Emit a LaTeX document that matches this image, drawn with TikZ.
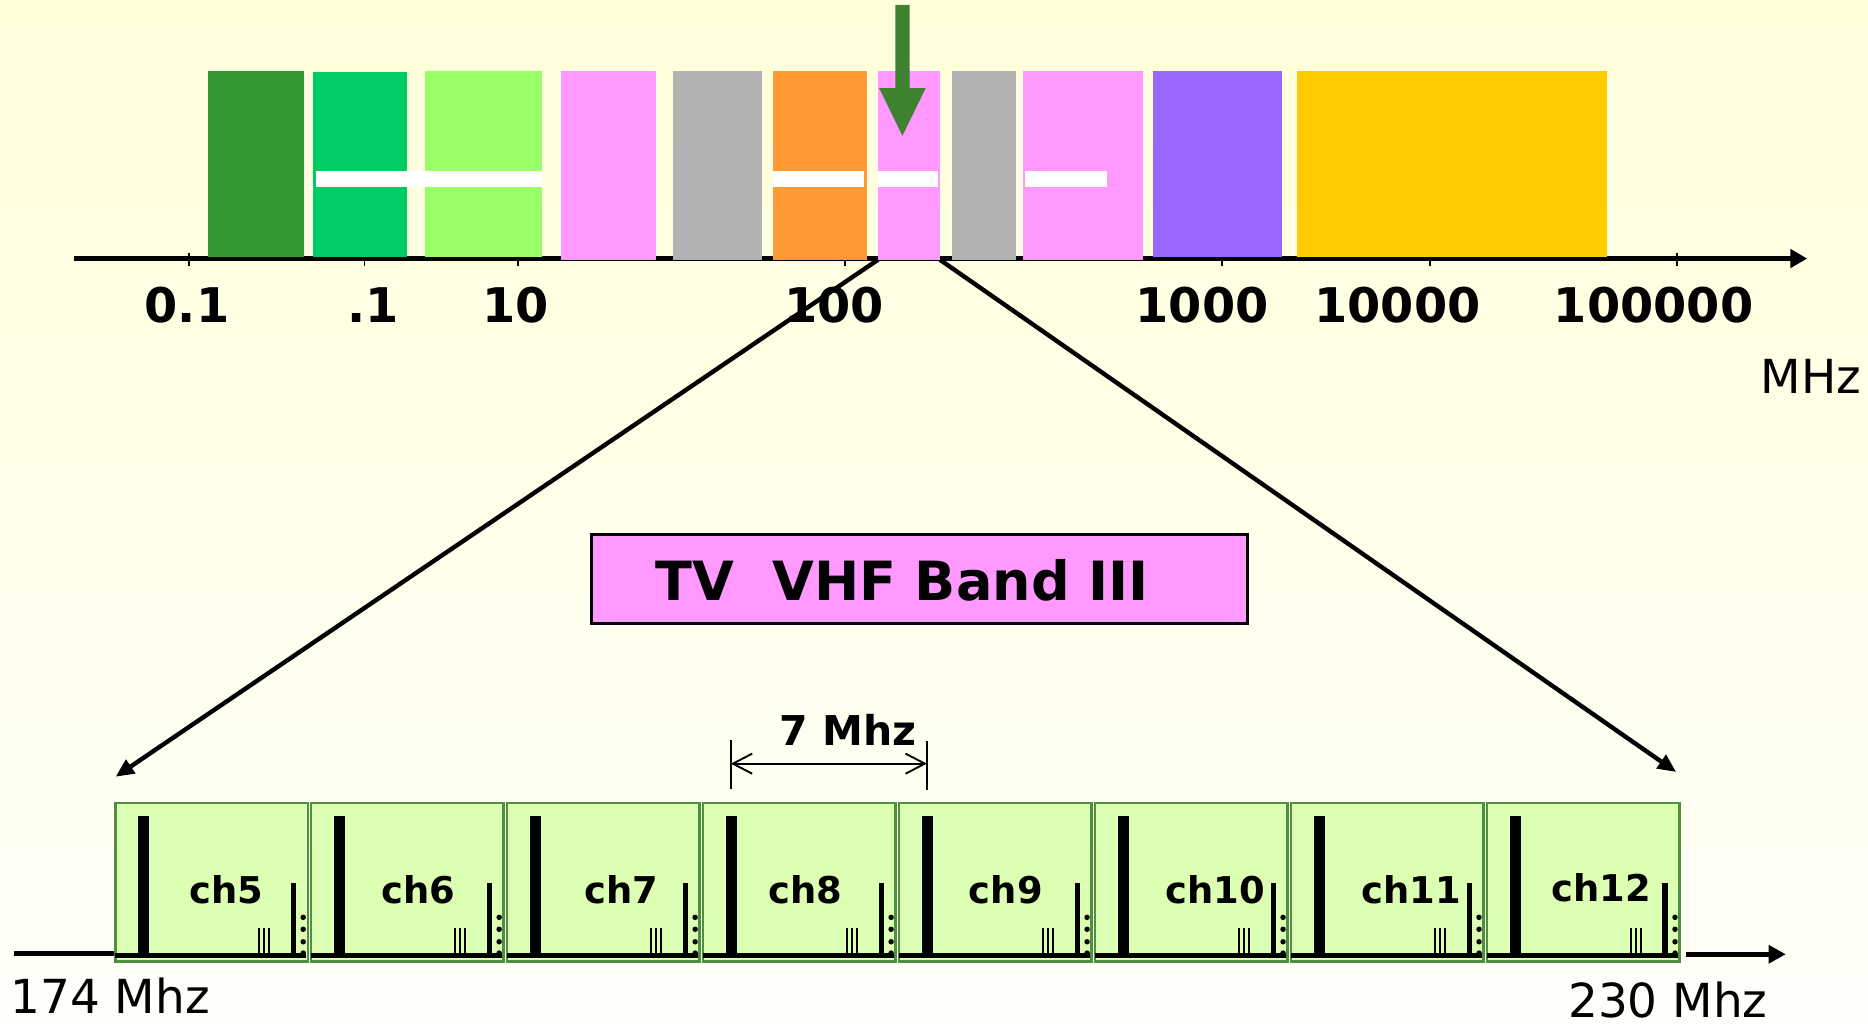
\documentclass[tikz,border=0pt]{standalone}
\usepackage{fontspec}
\setmainfont{DejaVu Sans}
\usetikzlibrary{arrows.meta}
\definecolor{bgtop}{HTML}{FFFFDA}
\definecolor{bgbot}{HTML}{FFFFFA}
\definecolor{cA}{HTML}{339933}
\definecolor{cB}{HTML}{00CC66}
\definecolor{cC}{HTML}{99FF66}
\definecolor{cP}{HTML}{FF99FF}
\definecolor{cG}{HTML}{B2B2B2}
\definecolor{cO}{HTML}{FF9933}
\definecolor{cV}{HTML}{9966FF}
\definecolor{cY}{HTML}{FFCC00}
\definecolor{garrow}{HTML}{3E8232}
\definecolor{chfill}{HTML}{DDFFB4}
\definecolor{chedge}{HTML}{4F8F3F}
\begin{document}
\begin{tikzpicture}[x=0.01cm,y=-0.01cm,
  axisline/.style={line width=1.4pt,-{Triangle[length=4pt,width=4.3pt]}},
  tickline/.style={line width=0.45pt},
  zoomline/.style={line width=1.05pt,-{Triangle[length=4.4pt,width=3.8pt]}},
  toplab/.style={font=\bfseries\fontsize{11.4}{13}\selectfont,inner sep=0pt},
  unitlab/.style={font=\fontsize{11.2}{13}\selectfont,inner sep=0pt},
  chbox/.style={draw=chedge,fill=chfill,line width=0.6pt,minimum width=1.615cm,minimum height=1.33cm,inner sep=0pt,anchor=north west},
  chlab/.style={font=\bfseries\fontsize{8.8}{10}\selectfont,inner sep=0pt},
  tvbox/.style={draw=black,fill=cP,line width=0.7pt,minimum width=5.5cm,minimum height=0.74cm,inner sep=0pt},
  dimline/.style={line width=0.45pt,{Straight Barb[length=4.6pt,width=4.8pt]}-{Straight Barb[length=4.6pt,width=4.8pt]}}
]
\useasboundingbox (0,0) rectangle (1568,859);
\shade[top color=bgtop,bottom color=bgbot] (0,0) rectangle (1568,859);

% ---------- top axis ----------
\coordinate (ax0) at (62,217);
\coordinate (ax1) at (1517,217);
\draw[axisline] (ax0) -- (ax1);
\foreach \tx in {159,306,435,709,1026,1200,1408}
  \draw[tickline] (\tx,212) -- (\tx,223);

% ---------- spectrum bands ----------
\foreach \xa/\xb/\yb/\col in {174.6/255/215.5/cA, 262.9/341.6/215.5/cB, 356.8/455/215.5/cC,
  471/550.7/218/cP, 565/639.6/218/cG, 649/728/218/cO, 737/789/218/cP, 799/853/218/cG,
  859/959.5/218/cP, 968/1076/215.5/cV, 1089/1349/215.5/cY}
  \fill[\col] (\xa,59.6) rectangle (\xb,\yb);
\fill[bgtop] (262.9,59) rectangle (341.6,60.6);
\foreach \xa/\xb in {265/455, 649/725, 737/787, 860/929}
  \fill[white] (\xa,143.5) rectangle (\xb,157);
\coordinate (bandL) at (737,218);
\coordinate (bandR) at (789,218);

% green marker arrow
\fill[garrow] (751.5,4) -- (763.5,4) -- (763.5,74) -- (777,74) -- (757.5,114)
  -- (738,74) -- (751.5,74) -- cycle;

% axis labels
\node[toplab] (l01)  at (157,256)  {0.1};
\node[toplab] (l1)   at (313,256)  {.1};
\node[toplab] (l10)  at (433,256)  {10};
\node[toplab] (l100) at (700,256)  {100};
\node[toplab] (l1k)  at (1009,256) {1000};
\node[toplab] (l10k) at (1173,256) {10000};
\node[toplab] (l100k) at (1388,256) {100000};
\node[unitlab] (mhz) at (1520,316) {MHz};

% ---------- TV box ----------
\node[tvbox] (tv) at (772,486) {};
\node[font=\bfseries\fontsize{12.9}{15}\selectfont,inner sep=0pt] (tvt) at (757.5,487) {TV\ \ VHF Band III};

% ---------- channels ----------
\foreach \i/\lab/\lx/\ly in {0/ch5/94.6/747, 1/ch6/90.7/747, 2/ch7/97/747, 3/ch8/87/747,
  4/ch9/90.6/747, 5/ch10/102/747, 6/ch11/102/747, 7/ch12/97/745} {
  \pgfmathsetmacro{\xo}{95.7+\i*164.5}
  \node[chbox] (c\i) at (\xo,673) {};
  \fill (\xo+1,800) rectangle (\xo+161,804.5);
  \fill (\xo+20,685) rectangle (\xo+29.5,802);
  \foreach \t in {121.6,125.9,130.1}
    \fill (\xo+\t-0.9,779) rectangle (\xo+\t+0.9,802);
  \fill (\xo+148.3,741) rectangle (\xo+152.6,802);
  \foreach \dy in {770,780,790.5,800}
    \fill (\xo+158.8,\dy) circle (2.3);
  \node[chlab] (n\i) at (\xo+\lx,\ly) {\lab};
}

% bottom axis
\coordinate (bl) at (12,800);
\draw[line width=1.2pt] (bl) -- (bl -| c0.west);
\coordinate (brs) at (1415,801);
\coordinate (bre) at (1499,801);
\draw[line width=1.2pt,-{Triangle[length=4.1pt,width=4.2pt]}] (brs) -- (bre);
\node[unitlab,anchor=west] (f174) at (8,836) {174 Mhz};
\node[unitlab] (f230) at (1400,839) {230 Mhz};

% zoom lines
\coordinate (zL) at (97,652);
\coordinate (zR) at (1407,648);
\draw[zoomline] (bandL) -- (zL);
\draw[zoomline] (bandR) -- (zR);

% 7 MHz dimension
\coordinate (d1t) at (613.5,621);
\coordinate (d1b) at (613.5,662);
\coordinate (d2t) at (778,622);
\coordinate (d2b) at (778,663);
\draw[tickline] (d1t) -- (d1b);
\draw[tickline] (d2t) -- (d2b);
\coordinate (da) at (613.5,641);
\coordinate (db) at (778,641);
\draw[dimline] (da) -- (db);
\node[font=\bfseries\fontsize{9.8}{12}\selectfont,inner sep=0pt] (dlab) at (712,613) {7 Mhz};
\end{tikzpicture}
\end{document}
